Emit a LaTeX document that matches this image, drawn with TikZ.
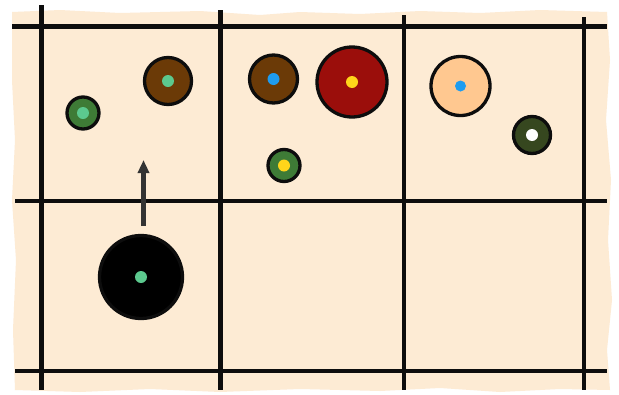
\documentclass[tikz,border=0pt]{standalone}
\usetikzlibrary{arrows.meta}
\definecolor{paper}{HTML}{FDEBD4}
\definecolor{ink}{HTML}{0D0D0D}
\definecolor{leaf}{HTML}{3E7B36}
\definecolor{mint}{HTML}{5CC98E}
\definecolor{bark}{HTML}{6B3A07}
\definecolor{wine}{HTML}{9B0E0B}
\definecolor{sun}{HTML}{FFD51A}
\definecolor{sky}{HTML}{1E9CF0}
\definecolor{peach}{HTML}{FFC890}
\definecolor{olive}{HTML}{36471F}
\definecolor{arrowgray}{HTML}{333333}
\tikzset{
  gridline/.style={draw=ink, line width=4.6pt},
  disc/.style={circle, draw=ink, line width=3.3pt, inner sep=0pt},
  dot/.style={circle, inner sep=0pt, minimum size=12pt},
  moveline/.style={draw=arrowgray, line width=4.8pt, -{Triangle[length=13pt,width=11pt]}}
}
\begin{document}
\begin{tikzpicture}[x=1pt,y=-1pt]
\useasboundingbox (0,0) rectangle (619,394);
\fill[white] (0,0) rectangle (619,394);
% paper
\fill[paper] (12,12) -- (60,10) -- (120,13) -- (200,11) -- (260,15) -- (300,12) -- (360,14) -- (420,11) -- (480,13) -- (540,10) -- (607,12)
  -- (610,60) -- (606,120) -- (611,180) -- (608,240) -- (612,300) -- (607,350) -- (610,390)
  -- (560,389) -- (500,392) -- (440,388) -- (380,391) -- (300,389) -- (220,392) -- (150,389) -- (80,392) -- (15,390)
  -- (13,330) -- (16,260) -- (12,200) -- (15,140) -- (12,80) -- cycle;
% grid
\draw[gridline] (41.5,5) -- (41.5,390);
\draw[gridline] (220.5,10) -- (220.5,390);
\draw[gridline] (404,15) -- (404,390);
\draw[gridline] (584,17) -- (584,390);
\draw[gridline] (12,26.5) -- (607,26.5);
\draw[gridline] (15,201) -- (607,201);
\draw[gridline] (15,371) -- (607,371);
% discs
\node[disc, fill=leaf, minimum size=32pt] (g1) at (83,113) {};
\node[dot, fill=mint] (g1d) at (g1) {};
\node[disc, fill=bark, minimum size=47pt] (b1) at (168,81) {};
\node[dot, fill=mint] (b1d) at (b1) {};
\node[disc, fill=bark, minimum size=48pt] (b2) at (273.5,79) {};
\node[dot, fill=sky] (b2d) at (b2) {};
\node[disc, fill=leaf, minimum size=32pt] (g2) at (284,165.5) {};
\node[dot, fill=sun] (g2d) at (g2) {};
\node[disc, fill=wine, minimum size=70pt] (r1) at (352,82) {};
\node[dot, fill=sun] (r1d) at (r1) {};
\node[disc, fill=peach, minimum size=59pt] (p1) at (460.5,86) {};
\node[dot, fill=sky, minimum size=11pt] (p1d) at (p1) {};
\node[disc, fill=olive, minimum size=37pt] (o1) at (532,135) {};
\node[dot, fill=white] (o1d) at (o1) {};
\node[disc, fill=black, minimum size=83pt] (k1) at (141,277) {};
\node[dot, fill=mint] (k1d) at (k1) {};
% arrow
\coordinate (atail) at (143.5,226);
\coordinate (ahead) at (143.5,160);
\draw[moveline] (atail) -- (ahead);
\end{tikzpicture}
\end{document}
